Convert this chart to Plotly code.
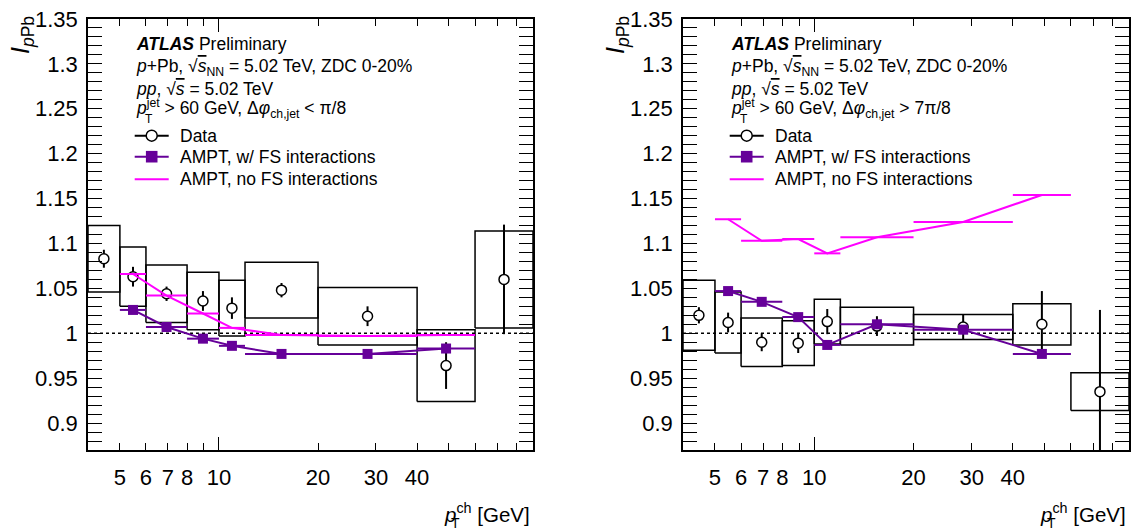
import math
import plotly.graph_objects as go

W, H = 1134, 531
FONT = "Liberation Sans, Arial, Helvetica, sans-serif"
PURPLE = "#660099"
MAGENTA = "#ff00ff"

# ---------------- data ----------------
bin_lo = [4, 5, 6, 8, 10, 12, 20, 40, 60]
bin_hi = [5, 6, 8, 10, 12, 20, 40, 60, 90]
pt_center = [4.47, 5.48, 6.93, 8.94, 10.95, 15.49, 28.28, 48.99, 73.48]

# near side  (dphi < pi/8)
data_near = [1.083, 1.063, 1.044, 1.036, 1.028, 1.048, 1.019, 0.964, 1.060]
stat_near = [0.010, 0.011, 0.008, 0.011, 0.012, 0.008, 0.011, 0.026, 0.061]
syst_near = [0.037, 0.033, 0.032, 0.032, 0.031, 0.031, 0.032, 0.040, 0.054]
ampt_fs_near = [1.026, 1.007, 0.994, 0.986, 0.977, 0.977, 0.983]
ampt_nofs_near = [1.066, 1.042, 1.022, 1.006, 0.998, 0.997, 0.998]

# away side (dphi > 7pi/8)
data_away = [1.020, 1.012, 0.990, 0.989, 1.013, 1.008, 1.007, 1.010, 0.935]
stat_away = [0.009, 0.011, 0.010, 0.011, 0.014, 0.011, 0.014, 0.037, 0.091]
syst_away = [0.039, 0.034, 0.027, 0.025, 0.025, 0.021, 0.014, 0.023, 0.021]
ampt_fs_away = [1.047, 1.035, 1.018, 0.987, 1.010, 1.004, 0.977]
ampt_nofs_away = [1.127, 1.103, 1.105, 1.089, 1.107, 1.124, 1.154]

# model curves cover bins 2..8
model_first, model_last = 1, 8

xtick_vals = [5, 6, 7, 8, 9, 10, 20, 30, 40, 50, 60, 70, 80, 90]
xtick_text = ["5", "6", "7", "8", " ", "10", "20", "30", "40", " ", " ", " ", " ", " "]
ytick_vals = [0.9, 0.95, 1.0, 1.05, 1.1, 1.15, 1.2, 1.25, 1.3, 1.35]
ytick_text = ["0.9", "0.95", "1", "1.05", "1.1", "1.15", "1.2", "1.25", "1.3", "1.35"]

cut_text = ["&lt; π/8", "&gt; 7π/8"]

# ---------------- figure ----------------
fig = go.Figure()


def px(x):
    return x / W


def py(y):
    return 1 - y / H


panels = [
    dict(xa="x", ya="y", xo="x3", frame_l=88, frame_r=533,
         data=data_near, stat=stat_near, syst=syst_near,
         fs=ampt_fs_near, nofs=ampt_nofs_near, cut=cut_text[0]),
    dict(xa="x2", ya="y2", xo="x4", frame_l=683, frame_r=1129,
         data=data_away, stat=stat_away, syst=syst_away,
         fs=ampt_fs_away, nofs=ampt_nofs_away, cut=cut_text[1]),
]

shapes = []
annotations = []

for p in panels:
    # systematic boxes
    bx, by = [], []
    for lo, hi, v, s in zip(bin_lo, bin_hi, p["data"], p["syst"]):
        bx += [lo, hi, hi, lo, lo, None]
        by += [v - s, v - s, v + s, v + s, v - s, None]
    fig.add_trace(go.Scatter(x=bx, y=by, mode="lines",
                             line=dict(color="black", width=1.5),
                             xaxis=p["xa"], yaxis=p["ya"], hoverinfo="skip",
                             showlegend=False))
    # data points with stat errors
    fig.add_trace(go.Scatter(x=pt_center, y=p["data"], mode="markers",
                             marker=dict(symbol="circle", size=10, color="white",
                                         line=dict(color="black", width=1.5)),
                             error_y=dict(type="data", array=p["stat"], color="black",
                                          thickness=2, width=0),
                             xaxis=p["xa"], yaxis=p["ya"], showlegend=False))
    mx = pt_center[model_first:model_last]
    mlo = bin_lo[model_first:model_last]
    mhi = bin_hi[model_first:model_last]
    err_plus = [h - c for h, c in zip(mhi, mx)]
    err_minus = [c - l for l, c in zip(mlo, mx)]
    # AMPT with FS
    fig.add_trace(go.Scatter(x=mx, y=p["fs"], mode="lines+markers",
                             line=dict(color=PURPLE, width=2),
                             marker=dict(symbol="square", size=10, color=PURPLE),
                             error_x=dict(type="data", symmetric=False, array=err_plus,
                                          arrayminus=err_minus, color=PURPLE,
                                          thickness=2, width=0),
                             xaxis=p["xa"], yaxis=p["ya"], showlegend=False))
    # AMPT no FS
    fig.add_trace(go.Scatter(x=mx, y=p["nofs"], mode="lines",
                             line=dict(color=MAGENTA, width=2),
                             error_x=dict(type="data", symmetric=False, array=err_plus,
                                          arrayminus=err_minus, color=MAGENTA,
                                          thickness=2, width=0),
                             xaxis=p["xa"], yaxis=p["ya"], showlegend=False))
    # empty trace on overlay axis (long tick at 10)
    fig.add_trace(go.Scatter(x=[], y=[], xaxis=p["xo"], yaxis=p["ya"],
                             showlegend=False))

    # unity dashed line
    shapes.append(dict(type="line", xref=p["xa"] + " domain", yref=p["ya"],
                       x0=0, x1=1, y0=1, y1=1,
                       line=dict(color="black", width=1.5, dash="3px,3px"),
                       layer="below"))

    # ---- text block ----
    tx = p["frame_l"] + 46
    lines = [
        (44, "<b><i>ATLAS</i></b> Preliminary"),
        (67.7, "<i>p</i>+Pb, √<span style='text-decoration:overline'><i>s</i></span><sub>NN</sub> = 5.02 TeV, ZDC 0-20%"),
        (89.3, "<i>pp</i>, √<span style='text-decoration:overline'><i>s</i></span> = 5.02 TeV"),
        (108.5, "<i>p</i><sup>jet</sup> &gt; 60 GeV, Δ<i>φ</i><sub>ch,jet</sub> " + p["cut"]),
    ]
    for yy, t in lines:
        annotations.append(dict(text=t, x=px(tx), y=py(yy), xref="paper", yref="paper",
                                xanchor="left", yanchor="middle", showarrow=False,
                                font=dict(family=FONT, size=17.5, color="black")))
    annotations.append(dict(text="T", x=px(tx + 9), y=py(119), xref="paper", yref="paper",
                            xanchor="left", yanchor="middle", showarrow=False,
                            font=dict(family=FONT, size=12, color="black")))
    # legend entries
    leg = [(135.7, "Data"), (156.7, "AMPT, w/ FS interactions"),
           (179.3, "AMPT, no FS interactions")]
    for yy, t in leg:
        annotations.append(dict(text=t, x=px(tx + 44), y=py(yy), xref="paper", yref="paper",
                                xanchor="left", yanchor="middle", showarrow=False,
                                font=dict(family=FONT, size=17.5, color="black")))
    l0, l1 = tx + 0.7, tx + 34.7
    cx = (l0 + l1) / 2
    shapes.append(dict(type="line", xref="paper", yref="paper", x0=px(l0), x1=px(l1),
                       y0=py(135.7), y1=py(135.7), line=dict(color="black", width=2)))
    shapes.append(dict(type="circle", xref="paper", yref="paper",
                       x0=px(cx - 5.5), x1=px(cx + 5.5), y0=py(135.7 - 5.5), y1=py(135.7 + 5.5),
                       fillcolor="white", line=dict(color="black", width=1.5)))
    shapes.append(dict(type="line", xref="paper", yref="paper", x0=px(l0), x1=px(l1),
                       y0=py(156.7), y1=py(156.7), line=dict(color=PURPLE, width=2)))
    shapes.append(dict(type="rect", xref="paper", yref="paper",
                       x0=px(cx - 5.8), x1=px(cx + 5.8), y0=py(156.7 - 5.8), y1=py(156.7 + 5.8),
                       fillcolor=PURPLE, line=dict(color=PURPLE, width=0)))
    shapes.append(dict(type="line", xref="paper", yref="paper", x0=px(l0), x1=px(l1),
                       y0=py(179.3), y1=py(179.3), line=dict(color=MAGENTA, width=2)))

    # axis titles
    annotations.append(dict(text="<i>p</i><sup>ch</sup> [GeV]", x=px(p["frame_r"] - 1), y=py(513),
                            xref="paper", yref="paper", xanchor="right", yanchor="middle",
                            showarrow=False, font=dict(family=FONT, size=20.5, color="black")))
    annotations.append(dict(text="T", x=px(p["frame_r"] - 84), y=py(523),
                            xref="paper", yref="paper", xanchor="left", yanchor="middle",
                            showarrow=False, font=dict(family=FONT, size=14, color="black")))
    annotations.append(dict(text="<i>I</i><sub><i>p</i>Pb</sub>", x=px(p["frame_l"] - 66),
                            y=py(14), xref="paper", yref="paper", xanchor="center",
                            yanchor="top", textangle=-90, showarrow=False,
                            font=dict(family=FONT, size=25, color="black")))

xr = [math.log10(4), math.log10(90)]
ydom = [1 - 450 / H, 1 - 19 / H]


def xaxis_cfg(dom, anchor):
    return dict(type="log", range=xr, domain=dom, anchor=anchor, showline=True,
                linecolor="black", linewidth=1.5, mirror="allticks", ticks="inside",
                ticklen=7, tickwidth=1, tickcolor="black", tickvals=xtick_vals,
                ticktext=xtick_text, showgrid=False, zeroline=False, tickangle=0,
                ticklabelstandoff=7, automargin=False,
                tickfont=dict(family=FONT, size=22, color="black"))


def xover_cfg(over, anchor):
    return dict(type="log", range=xr, overlaying=over, anchor=anchor, showline=False,
                mirror="allticks", ticks="inside", ticklen=13, tickwidth=1,
                tickcolor="black", tickvals=[10], showticklabels=False,
                showgrid=False, zeroline=False, automargin=False)


def yaxis_cfg(anchor):
    return dict(range=[0.87, 1.35], domain=ydom, anchor=anchor, showline=True,
                linecolor="black", linewidth=1.5, mirror="allticks", ticks="inside",
                ticklen=14, tickwidth=1, tickcolor="black", tickvals=ytick_vals,
                ticktext=ytick_text, showgrid=False, zeroline=False,
                ticklabelstandoff=4, automargin=False,
                minor=dict(ticks="inside", ticklen=7, tickwidth=1, tickcolor="black",
                           tickmode="linear", tick0=0, dtick=0.01, showgrid=False),
                tickfont=dict(family=FONT, size=22, color="black"))


fig.update_layout(
    width=W, height=H,
    margin=dict(l=0, r=0, t=0, b=0, autoexpand=False),
    paper_bgcolor="white", plot_bgcolor="white",
    showlegend=False,
    xaxis=xaxis_cfg([88 / W, 533 / W], "y"),
    xaxis2=xaxis_cfg([683 / W, 1129 / W], "y2"),
    xaxis3=xover_cfg("x", "y"),
    xaxis4=xover_cfg("x2", "y2"),
    yaxis=yaxis_cfg("x"),
    yaxis2=yaxis_cfg("x2"),
    shapes=shapes,
    annotations=annotations,
)

fig.write_html("out.html", config={"displayModeBar": False},
               post_script="document.body.style.margin='0';document.body.style.overflow='hidden';")
